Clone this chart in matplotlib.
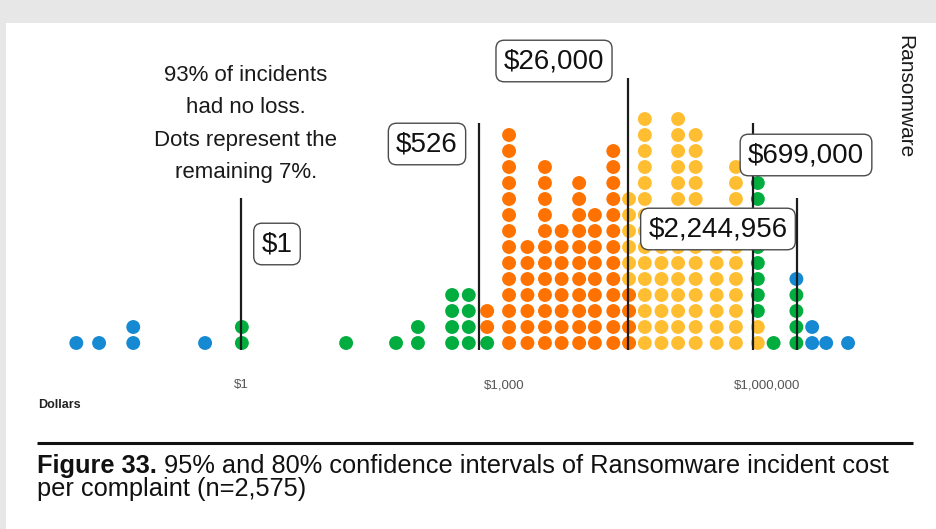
import numpy as np
import matplotlib
matplotlib.use("Agg")
import matplotlib.pyplot as plt
from matplotlib import font_manager
from matplotlib.patches import Rectangle
from matplotlib.ticker import NullLocator

# -- dot columns: bin centre (log10 of dollars) and dots per band -------------
col_log10 = [-1.88, -1.62, -1.23, -0.41, 0.01, 1.20, 1.77, 2.02, 2.41, 2.60,
             2.81, 3.06, 3.27, 3.47, 3.66, 3.86, 4.04, 4.25, 4.43, 4.61,
             4.80, 4.99, 5.19, 5.43, 5.65, 5.90, 6.08, 6.34, 6.52, 6.68, 6.93]
n_blue   = [1, 1, 2, 1, 0, 0, 0, 0, 0, 0, 0, 0, 0, 0, 0, 0,
            0, 0, 0, 0, 0, 0, 0, 0, 0, 0, 0, 1, 2, 1, 1]
n_green  = [0, 0, 0, 0, 2, 1, 1, 2, 4, 4, 1, 0, 0, 0, 0, 0,
            0, 0, 0, 0, 0, 0, 0, 0, 0, 9, 1, 4, 0, 0, 0]
n_orange = [0, 0, 0, 0, 0, 0, 0, 0, 0, 0, 2, 14, 7, 12, 8, 11,
            9, 13, 4, 0, 0, 0, 0, 0, 0, 0, 0, 0, 0, 0, 0]
n_yellow = [0, 0, 0, 0, 0, 0, 0, 0, 0, 0, 0, 0, 0, 0, 0, 0,
            0, 0, 6, 15, 7, 15, 14, 7, 12, 2, 0, 0, 0, 0, 0]

# -- interval markers ---------------------------------------------------------
median_value = 26000
ci_values = [1, 526, 26000, 699000, 2244956]
ci_labels = ["$1", "$526", "$26,000", "$699,000", "$2,244,956"]
ci_tops   = [9.06, 13.75, 16.56, 13.75, 9.06]        # line top, in dot rows

tick_values = [1, 1e3, 1e6]
tick_labels = ["$1", "$1,000", "$1,000,000"]

COLORS = {"blue": "#1689d3", "green": "#00ad3e",
          "orange": "#ff7200", "yellow": "#ffbe32"}

W, H = 937, 529
PX_ORIGIN, PX_DECADE = 241.0, 87.6     # x pixel of $1, pixels per decade
ROW_BASE, ROW_STEP = 343.0, 16.0       # y pixel of bottom row, row spacing

installed = {f.name for f in font_manager.fontManager.ttflist}
NARROW = "Liberation Sans Narrow" if "Liberation Sans Narrow" in installed else "Liberation Sans"
REG = "Liberation Sans"

fig = plt.figure(figsize=(W / 100, H / 100), dpi=100, facecolor="#e6e7e6")
fig.add_artist(Rectangle((6 / W, 0), 1, 1 - 23 / H, transform=fig.transFigure,
                         facecolor="white", edgecolor="none", zorder=-5))

# -- dot plot axes (log dollars) ---------------------------------------------
ax_l, ax_r, ax_b, ax_t = 30, 900, 360, 30
ax = fig.add_axes([ax_l / W, 1 - ax_b / H, (ax_r - ax_l) / W, (ax_b - ax_t) / H])
ax.set_facecolor("none")
ax.set_xscale("log")
ax.set_xlim(10 ** ((ax_l - PX_ORIGIN) / PX_DECADE), 10 ** ((ax_r - PX_ORIGIN) / PX_DECADE))
ax.set_ylim((ROW_BASE - ax_b) / ROW_STEP, (ROW_BASE - ax_t) / ROW_STEP)

for i, lx in enumerate(col_log10):
    counts = {"blue": n_blue[i], "green": n_green[i],
              "orange": n_orange[i], "yellow": n_yellow[i]}
    # dots are stacked in value order within a bin
    if 10 ** lx < median_value:
        order = ["blue", "green", "orange", "yellow"]
    else:
        order = ["orange", "yellow", "green", "blue"]
    row = 0
    for band in order:
        n = counts[band]
        if n == 0:
            continue
        ys = np.arange(row, row + n)
        ax.scatter(np.full(n, 10 ** lx), ys, s=100, color=COLORS[band],
                   edgecolors="none", zorder=2)
        row += n

ax.vlines(ci_values, -0.44, ci_tops, color="#1c1c1c", lw=1.6, zorder=3)

ax.set_xticks(tick_values)
ax.set_xticklabels(tick_labels, fontsize=9.5, color="#555555", family=NARROW)
ax.xaxis.set_minor_locator(NullLocator())
ax.tick_params(axis="x", length=0, pad=14)
ax.set_yticks([])
for sp in ax.spines.values():
    sp.set_visible(False)

# -- overlay in pixel coordinates for labels and caption ---------------------
ov = fig.add_axes([0, 0, 1, 1])
ov.set_xlim(0, W)
ov.set_ylim(H, 0)
ov.axis("off")
ov.set_facecolor("none")

label_pos = [(277, 244), (427, 144), (554, 61), (806, 155), (718, 229)]
for (x, y), txt in zip(label_pos, ci_labels):
    ov.text(x, y, txt, ha="center", va="center", fontsize=20, family=REG,
            color="#111111",
            bbox=dict(boxstyle="round,pad=0.28,rounding_size=0.3",
                      fc="white", ec="#4a4a4a", lw=1.0))

ov.text(246, 124, "93% of incidents\nhad no loss.\nDots represent the\nremaining 7%.",
        ha="center", va="center", fontsize=16, family=REG, color="#1a1a1a",
        linespacing=1.7)

ov.text(905, 97, "Ransomware", rotation=270, ha="center", va="center",
        fontsize=15, family=REG, color="#1a1a1a")

ov.text(38, 405, "Dollars", ha="left", va="center", fontsize=9,
        fontweight="bold", family=NARROW, color="#222222")

ov.plot([37, 913], [442.5, 442.5], color="#111111", lw=2.2, solid_capstyle="butt")

t1 = ov.text(37, 478, "Figure 33.", ha="left", va="bottom", fontsize=18.3,
             fontweight="bold", family=NARROW, color="#111111")
ov.annotate(" 95% and 80% confidence intervals of Ransomware incident cost",
            xy=(1, 0), xycoords=t1, ha="left", va="bottom", fontsize=18.3,
            family=NARROW, color="#111111")
ov.text(37, 501, "per complaint (n=2,575)", ha="left", va="bottom", fontsize=18.3,
        family=NARROW, color="#111111")

fig.savefig("out.png", dpi=100, facecolor=fig.get_facecolor())
